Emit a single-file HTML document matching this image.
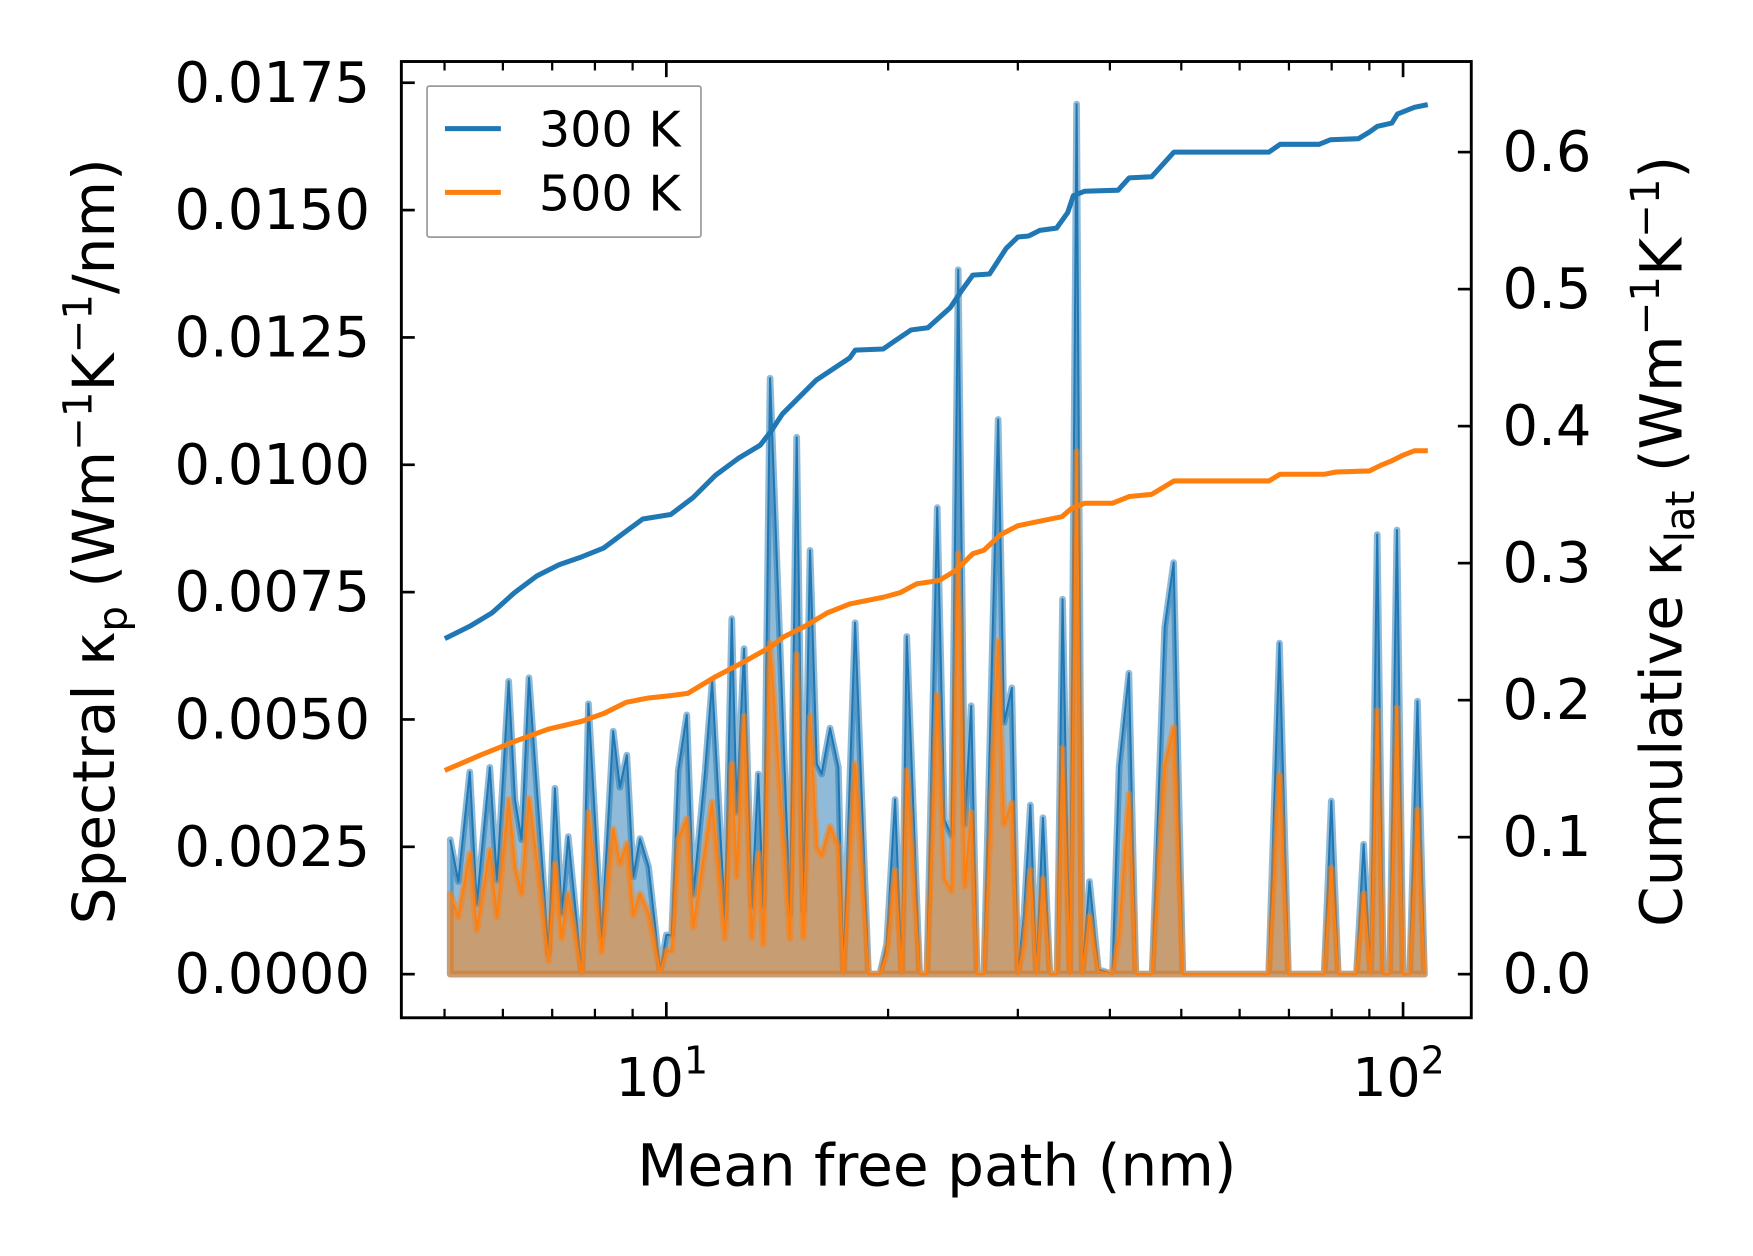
<!DOCTYPE html>
<html><head><meta charset="utf-8"><style>
html,body{margin:0;padding:0;background:#fff;}
svg{display:block;font-family:"DejaVu Sans","Liberation Sans",sans-serif;}
</style></head><body>
<svg id="chart" xmlns="http://www.w3.org/2000/svg" width="1753" height="1256" viewBox="0 0 1568 1123" preserveAspectRatio="none">
<rect width="1568" height="1123" fill="#fff"/>
<g id="plot"></g>
<g id="axes"></g>
</svg>
<script>
// ---- data ----
const mfp = [5.09,5.22,5.41,5.53,5.76,5.89,6.11,6.23,6.36,6.51,6.67,6.92,7.06,7.21,7.36,7.68,7.84,8.17,8.47,8.65,8.84,9.02,9.21,9.46,9.81,10.0,10.17,10.38,10.66,10.88,11.28,11.54,12.01,12.27,12.46,12.75,13.06,13.33,13.54,13.83,14.72,15.03,15.35,15.67,16.0,16.25,16.68,17.12,17.39,18.04,18.81,19.49,19.91,20.44,20.87,21.2,22.07,22.58,23.32,23.85,24.38,24.9,25.42,25.93,26.41,26.98,28.21,28.73,29.44,30.0,30.59,31.2,31.79,32.45,33.16,33.91,34.5,35.3,36.05,36.68,37.53,38.59,40.32,41.17,42.45,43.38,45.65,47.47,48.82,50.24,65.71,67.96,69.88,78.15,79.91,81.66,86.44,88.4,90.36,92.24,94.0,95.9,98.1,100,102.1,104.6,106.9];
const spec300 = [26.4,18.2,39.7,13.8,40.6,18.4,57.5,34.3,26.4,58.2,36.7,4.0,36.5,11.9,27.0,0,53.1,7.2,47.7,36.7,43.0,19.1,26.6,21.1,0.4,7.7,7.7,40.0,50.9,15.6,39.3,57.5,11.0,69.8,31.8,63.9,13.2,39.3,13.2,117.0,11.9,105.4,12.5,83.2,41.3,39.3,48.3,40.6,0,69.0,0,0,5.9,34.3,0,66.3,0,0,91.6,30.3,27.2,138.3,29.4,52.7,0,0,108.9,49.4,56.2,0,11.9,33.2,0,30.7,0,0,73.6,0,170.8,0,18.2,0.9,0,40.8,59.1,0,0,68.1,80.8,0,0,65.0,0,0,34.0,0,0,25.5,0,86.3,0,0,87.2,0,0,53.6,0];
const spec500 = [15.8,11.2,23.7,8.6,24.4,11.2,34.3,21.1,15.8,34.5,22.4,2.6,21.7,7.0,15.8,0,31.8,4.4,28.5,21.7,25.7,11.6,15.8,11.9,0.4,4.6,4.6,26.4,30.5,9.2,24.4,33.8,7.0,41.3,19.1,50.7,7.2,23.7,5.9,65.0,7.0,62.8,7.2,50.7,25.0,23.3,29.0,25.0,0,41.3,0,0,4.0,20.4,0,40.0,0,0,54.9,18.7,16.3,82.6,17.3,31.8,0,0,65.4,29.4,33.6,0,5.7,20.4,0,18.7,0,0,44.4,0,102.6,0,11.4,0.5,0,7.7,35.4,0,0,40.8,48.5,0,0,39.1,0,0,20.9,0,0,15.8,0,51.8,0,0,52.3,0,0,32.3,0];
const cumX300 = [5.04,5.41,5.80,6.22,6.67,7.15,7.67,8.22,8.82,9.29,10.14,10.87,11.66,12.51,13.41,13.89,14.38,14.89,15.97,17.74,18.05,19.70,20.40,21.49,22.65,24.29,25.16,26.06,27.46,28.93,30.0,31.03,32.13,33.86,35.06,35.68,36.94,41.04,42.49,45.57,48.87,65.76,68.10,76.93,79.67,86.97,90.06,92.29,96.56,98.26,103.6,107.2];
const cum300 = [.2457,.2539,.2637,.2784,.2906,.2988,.3045,.3110,.3233,.3322,.3355,.3478,.3641,.3763,.3861,.3967,.4090,.4171,.4335,.4498,.4555,.4563,.4620,.4702,.4718,.4865,.4988,.5102,.5110,.5298,.5380,.5388,.5429,.5445,.5559,.5682,.5714,.5722,.5812,.5820,.6,.6,.6057,.6057,.6090,.6098,.6147,.6188,.6212,.6278,.6327,.6343];
const cumX500 = [5.04,5.60,6.22,6.91,7.67,8.22,8.82,9.46,10.14,10.69,11.66,12.73,13.89,14.38,15.42,16.54,17.74,19.70,20.76,21.87,23.46,24.72,26.06,26.98,28.43,30.0,32.13,34.44,35.42,36.94,40.32,42.49,45.57,48.87,65.76,68.10,78.30,81.10,90.06,93.26,96.56,100,103.6,107.2];
const cum500 = [.1494,.1600,.1698,.1788,.1845,.1902,.1984,.2016,.2033,.2049,.2171,.2278,.2392,.2457,.2539,.2637,.2702,.2751,.2784,.2849,.2873,.2947,.3069,.3094,.3208,.3273,.3306,.3339,.3396,.3437,.3437,.3486,.3502,.3600,.3600,.3649,.3649,.3665,.3673,.3714,.3747,.3788,.3820,.3820];
const leftTicks = [0,0.0025,0.005,0.0075,0.01,0.0125,0.015,0.0175];
const leftTickLabels = ["0.0000","0.0025","0.0050","0.0075","0.0100","0.0125","0.0150","0.0175"];
const rightTicks = [0,0.1,0.2,0.3,0.4,0.5,0.6];
const rightTickLabels = ["0.0","0.1","0.2","0.3","0.4","0.5","0.6"];

// ---- axes geometry ----
const L=359,R=1316,T=55,B=910;
const x = v => 596 + 659*Math.log10(v/10);
const yL = v => 871 - v/0.0025*113.86;
const yR = v => 871 - v/0.1*122.5;
const NS="http://www.w3.org/2000/svg";
const plot=document.getElementById('plot'), axes=document.getElementById('axes');
function mk(tag, attrs, parent){const e=document.createElementNS(NS,tag);for(const k in attrs)e.setAttribute(k,attrs[k]);parent.appendChild(e);return e;}

function drawSpectral(vals, color, name){
  let pts = mfp.map((m,i)=>x(m).toFixed(2)+','+yL(vals[i]*1e-4).toFixed(2));
  const poly = 'M'+x(mfp[0]).toFixed(2)+','+yL(0)+' L'+pts.join(' L')+' L'+x(mfp[mfp.length-1]).toFixed(2)+','+yL(0)+' Z';
  const f = mk('path',{d:poly,fill:color,'fill-opacity':0.5,stroke:color,'stroke-opacity':0.5,'stroke-width':6,'stroke-linejoin':'round'},plot);
  
  
  const l = mk('polyline',{points:pts.join(' '),fill:'none',stroke:color,'stroke-width':1.8,'stroke-linejoin':'round'},plot);
  
  
}
drawSpectral(spec300,'#1f77b4','300k');
drawSpectral(spec500,'#ff7f0e','500k');

function drawCum(xs, vals, color, name){
  const pts = xs.map((m,i)=>x(m).toFixed(2)+','+yR(vals[i]).toFixed(2)).join(' ');
  const l = mk('polyline',{points:pts,fill:'none',stroke:color,'stroke-width':4.5,'stroke-linejoin':'round','stroke-linecap':'square'},plot);
  
  
}
drawCum(cumX300, cum300, '#1f77b4','300k');
drawCum(cumX500, cum500, '#ff7f0e','500k');

const fr = mk('rect',{x:L,y:T,width:R-L,height:B-T,fill:'none',stroke:'#000','stroke-width':2.6},axes);



leftTicks.forEach((v,i)=>{
  const yy=yL(v);
  mk('line',{x1:L,x2:L+12,y1:yy,y2:yy,stroke:'#000','stroke-width':2.4},axes);
  const t=mk('text',{x:L-28,y:yy+17,'text-anchor':'end','font-size':50},axes);
  t.textContent=leftTickLabels[i];
  
  
});
rightTicks.forEach((v,i)=>{
  const yy=yR(v);
  mk('line',{x1:R-12,x2:R,y1:yy,y2:yy,stroke:'#000','stroke-width':2.4},axes);
  const t=mk('text',{x:R+28,y:yy+17,'text-anchor':'start','font-size':50},axes);
  t.textContent=rightTickLabels[i];
  
  
});
[5,6,7,8,9,20,30,40,50,60,70,80,90].forEach(v=>{
  const xx=x(v);
  mk('line',{x1:xx,x2:xx,y1:B,y2:B-8,stroke:'#000','stroke-width':2},axes);
  mk('line',{x1:xx,x2:xx,y1:T,y2:T+8,stroke:'#000','stroke-width':2},axes);
});
[10,100].forEach((v,i)=>{
  const xx=x(v);
  mk('line',{x1:xx,x2:xx,y1:B,y2:B-14,stroke:'#000','stroke-width':2.4},axes);
  mk('line',{x1:xx,x2:xx,y1:T,y2:T+14,stroke:'#000','stroke-width':2.4},axes);
  const t=mk('text',{x:xx-4,y:980,'text-anchor':'middle','font-size':48},axes);
  t.innerHTML='10<tspan font-size="34" dy="-20">'+(i+1)+'</tspan>';
  
  
});
</script>
<svg style="position:absolute;left:0;top:0" width="1753" height="1256" viewBox="0 0 1568 1123" preserveAspectRatio="none" font-family="DejaVu Sans, Liberation Sans, sans-serif">
<g>
<rect x="382" y="77" width="245" height="135" fill="#fff" fill-opacity="0.8" stroke="#999" stroke-width="1.5" rx="2"/>
<line x1="398" y1="115" x2="448" y2="115" stroke="#1f77b4" stroke-width="4.5"/>
<text x="482" y="131" font-size="44">300 K</text>
<line x1="398" y1="172" x2="448" y2="172" stroke="#ff7f0e" stroke-width="4.5"/>
<text x="482" y="188" font-size="44">500 K</text>
</g>
<text x="838" y="1060" text-anchor="middle" font-size="52">Mean free path (nm)</text>
<text transform="translate(102,484) rotate(-90)" text-anchor="middle" font-size="52">Spectral κ<tspan font-size="36" dy="11">p</tspan><tspan dy="-11"> (Wm</tspan><tspan font-size="36" dy="-20">−1</tspan><tspan dy="20">K</tspan><tspan font-size="36" dy="-20">−1</tspan><tspan dy="20">/nm)</tspan></text>
<text transform="translate(1504,484) rotate(-90)" text-anchor="middle" font-size="52">Cumulative κ<tspan font-size="36" dy="11">lat</tspan><tspan dy="-11"> (Wm</tspan><tspan font-size="36" dy="-20">−1</tspan><tspan dy="20">K</tspan><tspan font-size="36" dy="-20">−1</tspan><tspan dy="20">)</tspan></text>
</svg>
</body></html>
